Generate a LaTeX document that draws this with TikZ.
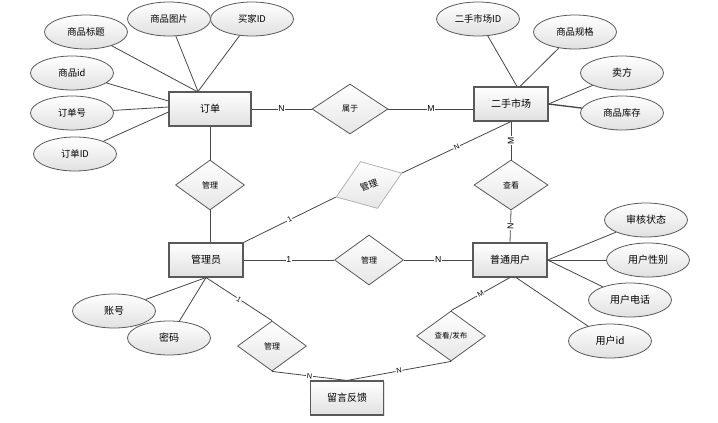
\documentclass[tikz,border=0pt]{standalone}
\usepackage{fontspec}
\setmainfont{Liberation Sans}
\newfontfamily\cjk{Noto Sans CJK SC}
\usetikzlibrary{shapes.geometric,calc,shadows}
\begin{document}
\begin{tikzpicture}[x=0.75pt,y=-0.75pt,
  ent/.style={draw=black!65, line width=0.8pt, rectangle, minimum width=55.5pt, minimum height=25.5pt, inner sep=0pt, top color=white, bottom color=black!12, font=\cjk\fontsize{7.5}{9}\selectfont, drop shadow={opacity=0.25,shadow xshift=0.8pt,shadow yshift=-0.8pt}},
  attr/.style={draw=black!65, line width=0.6pt, ellipse, minimum width=62.25pt, minimum height=25.5pt, inner sep=0pt, top color=white, bottom color=black!12, font=\cjk\fontsize{7}{8}\selectfont},
  rel/.style={draw=black!65, line width=0.6pt, diamond, minimum width=51.75pt, minimum height=37.5pt, inner sep=0pt, top color=white, bottom color=black!10, font=\cjk\fontsize{6}{7}\selectfont},
  conn/.style={draw=black!72, line width=0.6pt},
  card/.style={fill=white, inner sep=0.6pt, midway, font=\fontsize{6.5}{7}\selectfont},
  scard/.style={card, sloped, font=\fontsize{5.5}{6}\selectfont}
]
\useasboundingbox (0,0) rectangle (718,422);

% entities
\node[ent, minimum width=61.5pt] (dd) at (210,109) {订单};
\node[ent] (sc) at (511,104) {二手市场};
\node[ent] (gly) at (206,260) {管理员};
\node[ent] (pt) at (510,260) {普通用户};
\node[ent, minimum width=54.75pt] (ly) at (347,398) {留言反馈};

% relationships
\node[rel, minimum width=57pt] (sy) at (350,109) {属于};
\node[rel] (gl1) at (210,185) {管理};
\node[rel] (gl2) at (369,260) {管理};
\node[rel, draw=black!30, rotate=20, minimum width=52.5pt, font=\cjk\fontsize{6.75}{8}\selectfont] (gl3) at (369,185) {管理};
\node[rel, minimum width=55.5pt] (ck) at (511,185) {查看};
\node[rel, font=\cjk\fontsize{5.6}{7}\selectfont] (ckfb) at (451,336) {查看/发布};
\node[rel] (gl4) at (272,346) {管理};

% attributes
\node[attr] (a1) at (86,32) {商品标题};
\node[attr] (a2) at (169,19) {商品图片};
\node[attr] (a3) at (252,19) {买家ID};
\node[attr] (a4) at (72,73) {商品id};
\node[attr] (a5) at (72,113) {订单号};
\node[attr] (a6) at (75,154) {订单ID};
\node[attr] (b1) at (478,19) {二手市场ID};
\node[attr] (b2) at (575,32) {商品规格};
\node[attr, font=\cjk\fontsize{7.5}{8}\selectfont] (b3) at (622,73) {卖方};
\node[attr] (b4) at (622,113) {商品库存};
\node[attr, font=\cjk\fontsize{7.5}{8}\selectfont] (c1) at (646,220) {审核状态};
\node[attr, font=\cjk\fontsize{7.5}{8}\selectfont] (c2) at (648,260) {用户性别};
\node[attr, font=\cjk\fontsize{7.5}{8}\selectfont] (c3) at (630,300) {用户电话};
\node[attr, font=\cjk\fontsize{7.5}{8}\selectfont] (c4) at (610,341) {用户id};
\node[attr, font=\cjk\fontsize{7.5}{8}\selectfont] (d1) at (114,311) {账号};
\node[attr, font=\cjk\fontsize{7.5}{8}\selectfont] (d2) at (169,338) {密码};

% attribute connectors
\draw[conn] (a1) -- ($(dd.north)+(-13,0)$);
\draw[conn] (a2) -- ($(dd.north)+(-12,0)$);
\draw[conn] (a3) -- ($(dd.north)+(-12,0)$);
\draw[conn] (a4) -- ($(dd.west)+(0,-8)$);
\draw[conn] (a5) -- ($(dd.west)+(0,-2)$);
\draw[conn] (a6) -- ($(dd.west)+(0,3)$);
\draw[conn] (b1) -- ($(sc.north)+(6,0)$);
\draw[conn] (b2) -- ($(sc.north)+(9,0)$);
\draw[conn] (b3) -- (sc.east);
\draw[conn, line width=1pt] (b4) -- (sc.east);
\draw[conn] (c1) -- (pt.east);
\draw[conn] (c2) -- (pt.east);
\draw[conn] (c3) -- (pt.east);
\draw[conn] (c4) -- ($(pt.south)+(6,0)$);
\draw[conn] (d1) -- (gly.south);
\draw[conn] (d2) -- (gly.south);

% relationship connectors
\draw[conn] (dd) -- node[card]{N} (sy);
\draw[conn] (sy.east) -- node[card]{M} (sy.east -| sc.west);
\draw[conn] (dd) -- (gl1);
\draw[conn] (gl1.south) -- (gl1.south |- gly.north);
\draw[conn] (gly.east) -- node[card]{1} (gl2.west);
\draw[conn] (gl2.east) -- node[card]{N} (pt.west);
\draw[conn] (gly.north east) -- node[scard]{1} (gl3.west);
\draw[conn] (gl3.east) -- node[scard]{N} (sc.south);
\draw[conn] (ck.north) -- node[card, sloped]{M} (sc.south);
\draw[conn] (pt.north) -- node[card, sloped]{N} (ck.south);
\draw[conn] (gly.south) -- node[scard]{1} (gl4.north);
\draw[conn] (gl4.south) -- node[scard]{N} (ly.north);
\draw[conn] (ckfb.north) -- node[scard]{M} (pt.south);
\draw[conn] (ckfb.south) -- node[scard]{N} (ly.north);
\end{tikzpicture}
\end{document}
